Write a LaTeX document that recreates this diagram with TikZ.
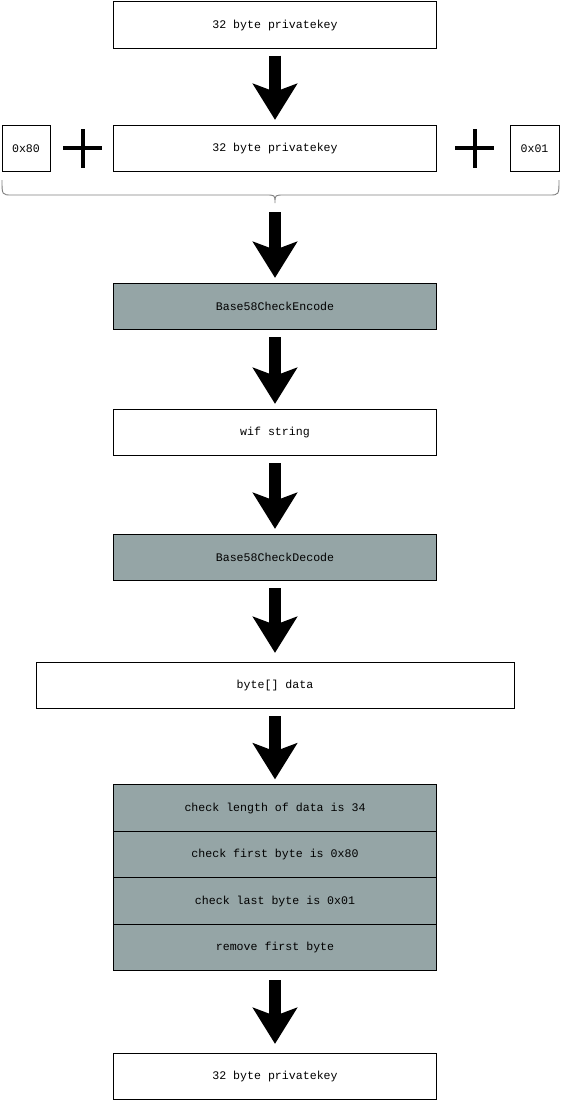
\documentclass[tikz,border=0pt]{standalone}
\usepackage{fontspec}
\setmonofont{Liberation Mono}
\usetikzlibrary{arrows.meta}

\definecolor{stepgray}{HTML}{95A5A6}
\definecolor{bracegray}{HTML}{7F7F7F}

\begin{document}
\begin{tikzpicture}[x=1pt,y=-1pt,
      font=\ttfamily\fontsize{11.6}{13}\selectfont,
      box/.style={draw,line width=0.8pt,inner sep=0pt,minimum height=46.5pt},
      keybox/.style={box,minimum width=323pt},
      stepbox/.style={keybox,fill=stepgray},
      bigarrow/.style={line width=12pt,
        -{Stealth[length=36pt,width=44pt,inset=8pt]},
        shorten <=7pt,shorten >=5pt},
      plus/.style={line width=4pt}]
      \useasboundingbox (0,0) rectangle (561,1101);

      \node[keybox] (key) at (275, 25) {32 byte privatekey};

      \node[box,minimum width=48pt] (pre) at ( 26, 148.5) {0x80};
      \node[keybox] (key2) at (275, 148.5) {32 byte privatekey};
      \node[box,minimum width=49pt] (suf) at (534.5, 148.5) {0x01};

      % the two plus signs
      \draw[plus] (63,148) -- (102,148) (82.5,129) -- (82.5,168);
      \draw[plus] (455,148) -- (494,148) (474.5,129) -- (474.5,168);

      % brace under the row
      \coordinate (tip) at (275, 203);
      \draw[bracegray,line width=0.9pt]
      (2,180) .. controls (2,195) .. (12,195) -- (266,195)
      .. controls (275,195) .. (tip)
      .. controls (275,195) .. (284,195) -- (549,195)
      .. controls (559,195) .. (559,180);

      \node[stepbox] (enc) at (275, 306.5) {Base58CheckEncode};
      \node[keybox] (wif) at (275, 432.5) {wif string};
      \node[stepbox] (dec) at (275, 557.5) {Base58CheckDecode};
      \node[box,minimum width=478pt] (data) at (275, 685.5) {byte[] data};

      \node[stepbox] (len) at (275, 808) {check length of data is 34};
      \node[stepbox] (first) at (275, 854.5) {check first byte is 0x80};
      \node[stepbox] (last) at (275, 901) {check last byte is 0x01};
      \node[stepbox] (rm) at (275, 947.5) {remove first byte};

      \node[keybox] (out) at (275, 1076.5) {32 byte privatekey};

      \path[draw]
      (key) edge [bigarrow] (key2)
      (tip) edge [bigarrow,shorten <=9pt] (enc)
      (enc) edge [bigarrow] (wif)
      (wif) edge [bigarrow] (dec)
      (dec) edge [bigarrow,shorten >=9pt] (data)
      (data) edge [bigarrow] (len)
      (rm) edge [bigarrow,shorten <=9pt,shorten >=9pt] (out)
      ;
      \end{tikzpicture}
\end{document}
